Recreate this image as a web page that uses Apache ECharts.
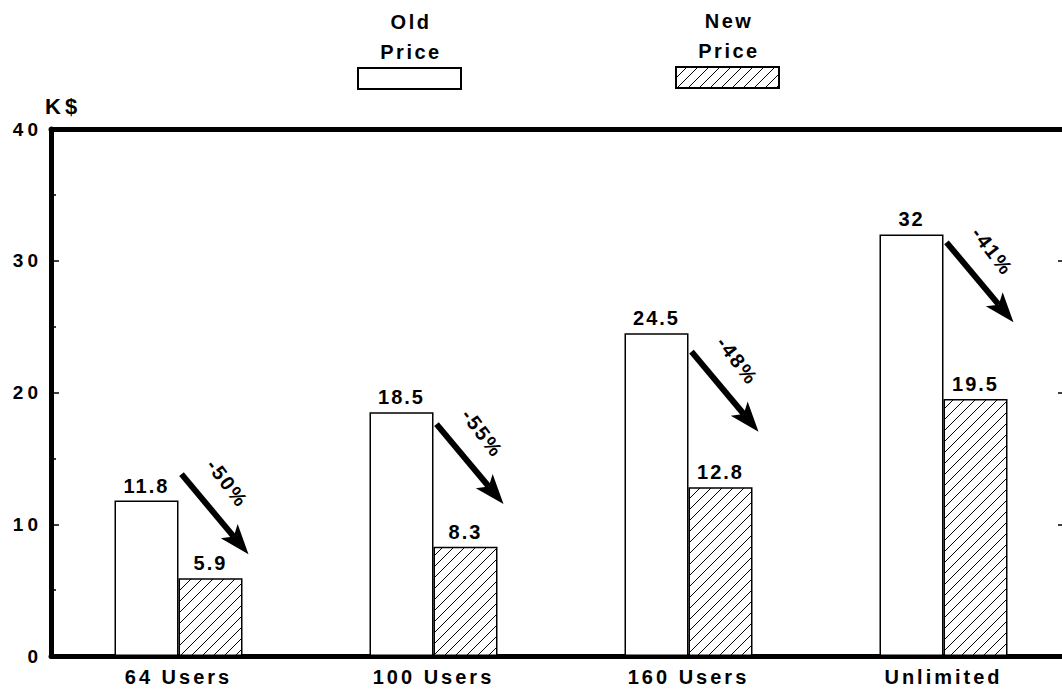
<!DOCTYPE html>
<html>
<head>
<meta charset="utf-8">
<script src="https://cdn.jsdelivr.net/npm/echarts@6/dist/echarts.min.js"></script>
<style>
  html, body { margin: 0; padding: 0; background: #fff; }
  #chart { width: 1062px; height: 690px; }
</style>
</head>
<body>
<div id="chart"></div>
<script>
// Price per licence tier, in thousands of dollars
const categories = ['64 Users', '100 Users', '160 Users', 'Unlimited'];
const seriesNames = ['Old\nPrice', 'New\nPrice'];
const oldPrice = [11.8, 18.5, 24.5, 32];
const newPrice = [5.9, 8.3, 12.8, 19.5];
// Percentage change labels and the value at which each arrow begins
const pctChange = ['-50%', '-55%', '-48%', '-41%'];
const arrowTop = [13.8, 17.6, 23.1, 31.4];
const yTicks = [0, 10, 20, 30, 40];

const FONT = '"Liberation Sans", Arial, Helvetica, sans-serif';

// Diagonal hatch fill for the new-price bars
const HATCH = 11;
function hatchPattern() {
  const s = HATCH;
  const c = document.createElement('canvas');
  c.width = s; c.height = s;
  const ctx = c.getContext('2d');
  ctx.fillStyle = '#fff';
  ctx.fillRect(0, 0, s, s);
  ctx.strokeStyle = '#000';
  ctx.lineWidth = 1;
  ctx.beginPath();
  ctx.moveTo(0, s); ctx.lineTo(s, 0);
  ctx.moveTo(-s / 2, s / 2); ctx.lineTo(s / 2, -s / 2);
  ctx.moveTo(s / 2, s * 1.5); ctx.lineTo(s * 1.5, s / 2);
  ctx.stroke();
  return c.toDataURL();
}
const hatch = { image: hatchPattern(), repeat: 'repeat', imageWidth: HATCH, imageHeight: HATCH };

const chart = echarts.init(document.getElementById('chart'), null, { renderer: 'svg' });

const labelStyle = {
  show: true,
  position: 'top',
  distance: 5,
  color: '#000',
  fontFamily: FONT,
  fontWeight: 'bold',
  fontSize: 20
};

// Arrow from the old-price bar down toward the new-price bar, with a slanted % label
function renderArrow(params, api) {
  const p = api.coord([api.value(0), api.value(1)]);
  const sx = p[0] + 3, sy = p[1];
  const dx = 67, dy = 80;
  const tx = sx + dx, ty = sy + dy;
  const len = Math.sqrt(dx * dx + dy * dy);
  const ux = dx / len, uy = dy / len;
  const nx = -uy, ny = ux;
  const head = 30, half = 11, notch = 23;
  const bx = tx - ux * head, by = ty - uy * head;
  const mx = tx - ux * notch, my = ty - uy * notch;
  const text = pctChange[params.dataIndex];
  return {
    type: 'group',
    children: [
      {
        type: 'line',
        shape: { x1: sx, y1: sy, x2: mx, y2: my },
        style: { stroke: '#000', lineWidth: 6 }
      },
      {
        type: 'polygon',
        shape: { points: [[tx, ty], [bx + nx * half, by + ny * half], [mx, my], [bx - nx * half, by - ny * half]] },
        style: { fill: '#000' }
      },
      {
        type: 'text',
        x: sx + 46, y: sy + 9,
        rotation: -0.92,
        style: {
          text: text,
          align: 'center', verticalAlign: 'middle',
          fill: '#000',
          font: 'bold 20px ' + FONT
        }
      }
    ]
  };
}

const option = {
  backgroundColor: '#fff',
  animation: false,
  grid: { left: 51, top: 129, width: 1020, height: 527, containLabel: false, outerBoundsMode: 'none' },
  xAxis: [
    {
      type: 'category',
      data: categories,
      position: 'bottom',
      axisLine: { show: true, onZero: false, lineStyle: { color: '#000', width: 5 } },
      axisTick: { show: false },
      axisLabel: { color: '#000', fontFamily: FONT, fontWeight: 'bold', fontSize: 20, margin: 11 },
      splitLine: { show: false }
    },
    {
      type: 'category',
      data: categories,
      position: 'top',
      axisLine: { show: true, onZero: false, lineStyle: { color: '#000', width: 5 } },
      axisTick: { show: false },
      axisLabel: { show: false },
      splitLine: { show: false }
    }
  ],
  yAxis: [
    {
      type: 'value',
      min: 0, max: 40, interval: 10,
      position: 'left',
      name: 'K$',
      nameLocation: 'end',
      nameGap: 12,
      nameTextStyle: { color: '#000', fontFamily: FONT, fontWeight: 'bold', fontSize: 22, align: 'left', padding: [0, 0, 0, -6] },
      axisLine: { show: true, onZero: false, lineStyle: { color: '#000', width: 5 } },
      axisTick: { show: true, inside: true, length: 8, lineStyle: { color: '#000', width: 1.5 } },
      minorTick: { show: true, splitNumber: 2, length: 5, lineStyle: { color: '#000', width: 1.5 } },
      axisLabel: {
        color: '#000', fontFamily: FONT, fontWeight: 'bold', fontSize: 19, margin: 9,
        formatter: v => (yTicks.indexOf(v) >= 0 ? String(v) : '')
      },
      splitLine: { show: false }
    },
    {
      type: 'value',
      min: 0, max: 40, interval: 10,
      position: 'right',
      axisLine: { show: false },
      axisTick: { show: true, inside: true, length: 13, lineStyle: { color: '#000', width: 1.5 } },
      axisLabel: { show: false },
      splitLine: { show: false }
    }
  ],
  series: [
    {
      name: seriesNames[0],
      type: 'bar',
      data: oldPrice,
      barWidth: 64,
      barGap: '0%',
      itemStyle: { color: '#fff', borderColor: '#000', borderWidth: 1.5 },
      label: labelStyle
    },
    {
      name: seriesNames[1],
      type: 'bar',
      data: newPrice,
      barWidth: 64,
      barGap: '0%',
      itemStyle: { color: hatch, borderColor: '#000', borderWidth: 1.5 },
      label: labelStyle
    },
    {
      name: 'change',
      type: 'custom',
      data: arrowTop.map((v, i) => [i, v]),
      renderItem: renderArrow,
      clip: false,
      z: 5
    }
  ],
  // Legend swatches with stacked captions above them
  graphic: [
    {
      type: 'text', x: 411, y: 7,
      style: { text: seriesNames[0], align: 'center', verticalAlign: 'top', fill: '#000', font: 'bold 20px ' + FONT, lineHeight: 30 }
    },
    {
      type: 'rect', x: 358, y: 68,
      shape: { width: 103, height: 21 },
      style: { fill: '#fff', stroke: '#000', lineWidth: 2 }
    },
    {
      type: 'text', x: 729, y: 6,
      style: { text: seriesNames[1], align: 'center', verticalAlign: 'top', fill: '#000', font: 'bold 20px ' + FONT, lineHeight: 30 }
    },
    {
      type: 'rect', x: 676, y: 67,
      shape: { width: 103, height: 21 },
      style: { fill: hatch, stroke: '#000', lineWidth: 2 }
    }
  ]
};

// Wide letter tracking for the lettering, set per kind of text
const tracking = (t) => {
  if (categories.indexOf(t) >= 0) return 3;
  if (t === 'Old' || t === 'New' || t === 'Price') return 2.5;
  if (t === 'K$') return 4;
  if (yTicks.map(String).indexOf(t) >= 0) return 4;
  return 2;
};
function applyTracking() {
  document.querySelectorAll('#chart svg text').forEach(el => {
    const t = (el.textContent || '').trim();
    if (!t) return;
    el.setAttribute('letter-spacing', tracking(t));
  });
}
chart.on('rendered', applyTracking);
chart.setOption(option);
applyTracking();
setTimeout(applyTracking, 0);
</script>
</body>
</html>
